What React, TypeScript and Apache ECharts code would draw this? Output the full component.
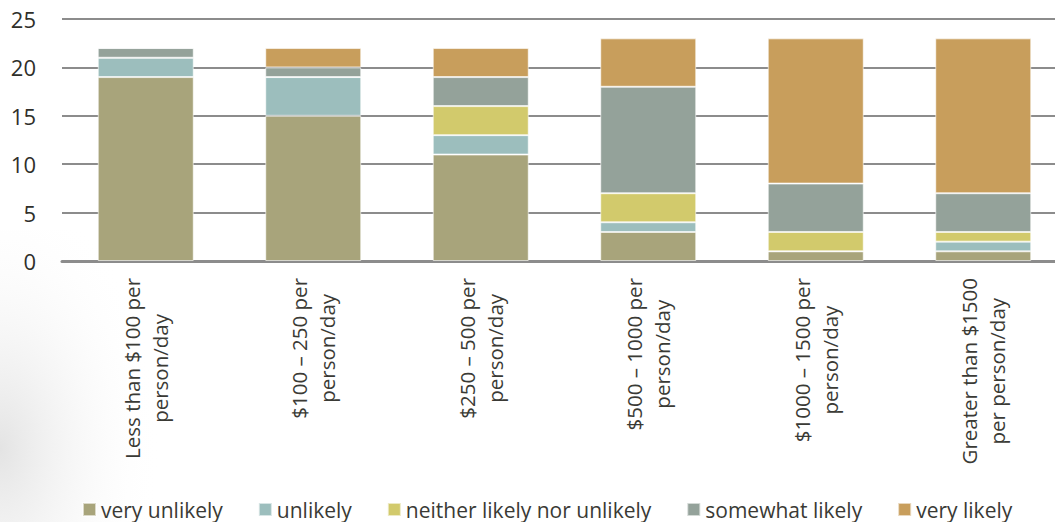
import React, { useEffect, useRef } from "react";
import * as echarts from "echarts";

const categories = [
  "Less than $100 per\nperson/day",
  "$100 – 250 per\nperson/day",
  "$250 – 500 per\nperson/day",
  "$500 – 1000 per\nperson/day",
  "$1000 – 1500 per\nperson/day",
  "Greater than $1500\nper person/day",
];

const seriesNames = [
  "very unlikely",
  "unlikely",
  "neither likely nor unlikely",
  "somewhat likely",
  "very likely",
];

const veryUnlikely = [19, 15, 11, 3, 1, 1];
const unlikely = [2, 4, 2, 1, 0, 1];
const neither = [0, 0, 3, 3, 2, 1];
const somewhatLikely = [1, 1, 3, 11, 5, 4];
const veryLikely = [0, 2, 3, 5, 15, 16];

const seriesValues = [veryUnlikely, unlikely, neither, somewhatLikely, veryLikely];
const colors = ["#a8a47b", "#9cbebd", "#d2ca6c", "#94a29a", "#c89e5c"];

const yTicks = { min: 0, max: 25, interval: 5 };

const LABEL_FONT = "20.5px 'Open Sans'";

function measure(text: string): number {
  const c = document.createElement("canvas");
  const ctx = c.getContext("2d");
  if (!ctx) return text.length * 10;
  ctx.font = LABEL_FONT;
  return ctx.measureText(text).width;
}

export default function App() {
  const ref = useRef<HTMLDivElement>(null);

  useEffect(() => {
    if (!ref.current) return;
    const chart = echarts.init(ref.current, undefined, { renderer: "svg" });

    const rich: Record<string, any> = {};
    categories.forEach((cat, i) => {
      const w = Math.max(...cat.split("\n").map(measure)) + 2;
      rich["c" + i] = {
        width: w,
        align: "center",
        fontFamily: "Open Sans",
        fontSize: 20.5,
        lineHeight: 28,
        color: "#3a3a35",
      };
    });

    chart.setOption({
      animation: false,
      backgroundColor: "#ffffff",
      color: colors,
      graphic: [
        {
          type: "rect",
          silent: true,
          z: -10,
          shape: { x: 0, y: 230, width: 180, height: 292 },
          style: {
            fill: {
              type: "radial",
              x: 0,
              y: 0.75,
              r: 0.9,
              colorStops: [
                { offset: 0, color: "rgba(205,205,205,0.55)" },
                { offset: 1, color: "rgba(255,255,255,0)" },
              ],
            },
          },
        },
      ],
      grid: {
        left: 62,
        width: 1005,
        top: 19,
        height: 242,
        containLabel: false,
        outerBoundsMode: "none",
      },
      legend: {
        left: 77,
        top: 494,
        itemWidth: 13,
        itemHeight: 13,
        itemGap: 35,
        icon: "rect",
        data: seriesNames,
        textStyle: { fontFamily: "Open Sans", fontSize: 21, color: "#3a3a35" },
      },
      xAxis: {
        type: "category",
        data: categories,
        axisTick: { show: false },
        axisLine: { show: true, lineStyle: { color: "#8c8c8c", width: 3 } },
        axisLabel: {
          interval: 0,
          rotate: 90,
          margin: 16,
          formatter: (value: string, index: number) =>
            value
              .split("\n")
              .map((l) => `{c${index}|${l}}`)
              .join("\n"),
          rich,
        },
      },
      yAxis: {
        type: "value",
        min: yTicks.min,
        max: yTicks.max,
        interval: yTicks.interval,
        axisLine: { show: false },
        axisTick: { show: false },
        axisLabel: { fontFamily: "Open Sans", fontSize: 22, color: "#2f2f2a", margin: 26 },
        splitLine: { lineStyle: { color: "#8c8c8c", width: 2 } },
      },
      series: seriesNames.map((name, i) => ({
        name,
        type: "bar",
        stack: "total",
        barCategoryGap: "42.7%",
        data: seriesValues[i],
        itemStyle: { color: colors[i], borderColor: "rgba(255,255,255,0.6)", borderWidth: 1 },
      })),
    });

    return () => chart.dispose();
  }, []);

  return (
    <div
      ref={ref}
      style={{ position: "absolute", left: 0, top: 0, width: 1055, height: 522 }}
    />
  );
}
